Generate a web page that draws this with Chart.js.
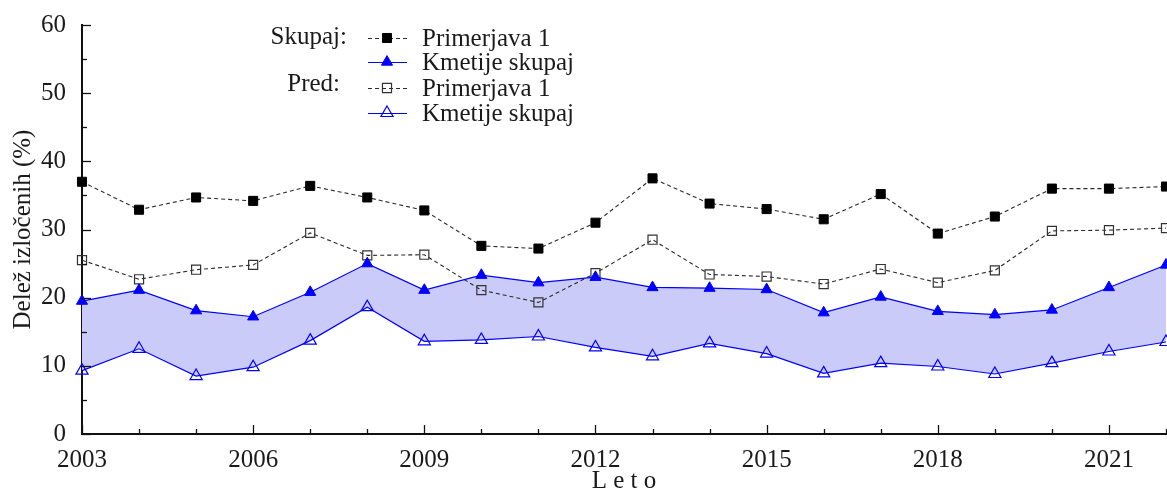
<!DOCTYPE html>
<html>
<head>
<meta charset="utf-8">
<script src="https://cdn.jsdelivr.net/npm/chart.js@4/dist/chart.umd.min.js"></script>
<style>
    body { margin: 0; background: #fff; }
    canvas { display: block; }
</style>
</head>
<body>
<canvas id="chart" width="1167" height="491"></canvas>
<script>
    // leto
    var years = [2003, 2004, 2005, 2006, 2007, 2008, 2009, 2010, 2011, 2012,
                 2013, 2014, 2015, 2016, 2017, 2018, 2019, 2020, 2021, 2022];

    // Skupaj
    var skupajPrimerjava = [37.0, 32.9, 34.7, 34.2, 36.4, 34.7, 32.8, 27.6, 27.2, 31.0,
                            37.5, 33.8, 33.0, 31.5, 35.2, 29.4, 31.9, 36.0, 36.0, 36.3];
    var skupajKmetije    = [19.5, 21.1, 18.1, 17.2, 20.8, 25.0, 21.1, 23.3, 22.2, 23.0,
                            21.5, 21.4, 21.2, 17.8, 20.1, 18.0, 17.5, 18.2, 21.5, 24.8];

    // Pred
    var predPrimerjava   = [25.5, 22.7, 24.1, 24.8, 29.5, 26.2, 26.3, 21.1, 19.3, 23.6,
                            28.5, 23.4, 23.1, 22.0, 24.2, 22.2, 24.0, 29.8, 29.9, 30.2];
    var predKmetije      = [9.3, 12.5, 8.5, 9.8, 13.7, 18.6, 13.6, 13.8, 14.3, 12.7,
                            11.4, 13.3, 11.8, 8.9, 10.4, 9.9, 8.8, 10.4, 12.1, 13.5];

    var yTicks = [0, 10, 20, 30, 40, 50, 60];
    var labeledYears = [2003, 2006, 2009, 2012, 2015, 2018, 2021];

    var FONT = '"Liberation Serif", "DejaVu Serif", serif';
    var FS = 25;
    var TXT = '#1a1a1a';
    var BLUE = '#0000ff';
    var DOT = '#2a2a2a';

    // tick marks drawn inward + legend
    var decor = {
        id: 'decor',
        afterDatasetsDraw: function(chart) {
            var ctx = chart.ctx;
            var xs = chart.scales.x, ys = chart.scales.y;
            var left = chart.chartArea.left, bottom = chart.chartArea.bottom;
            ctx.save();
            ctx.strokeStyle = '#111';
            ctx.lineWidth = 1.3;
            for (var v = 0; v <= 60; v += 5) {
                var py = Math.round(ys.getPixelForValue(v)) + 0.5;
                var len = (v % 10 === 0) ? 9 : 5;
                ctx.beginPath(); ctx.moveTo(left, py); ctx.lineTo(left + len, py); ctx.stroke();
            }
            for (var i = 0; i < years.length; i++) {
                var px = Math.round(xs.getPixelForValue(i)) + 0.5;
                var l2 = (labeledYears.indexOf(years[i]) >= 0) ? 9 : 5;
                ctx.beginPath(); ctx.moveTo(px, bottom); ctx.lineTo(px, bottom - l2); ctx.stroke();
            }
            ctx.restore();
            drawLegend(chart, ctx);
        }
    };

    function drawLegend(chart, ctx) {
        var x0 = 368, x1 = 407, mx = 387, tx = 422;
        var rows = [
            {y: 38,  ds: 0},
            {y: 62,  ds: 1},
            {y: 88,  ds: 2},
            {y: 113, ds: 3}
        ];
        ctx.save();
        ctx.font = FS + 'px ' + FONT;
        ctx.fillStyle = TXT;
        ctx.textBaseline = 'middle';
        ctx.textAlign = 'right';
        ctx.fillText('Skupaj:', 347, 37);
        ctx.fillText('Pred:', 340, 84);
        rows.forEach(function(r) {
            var d = chart.data.datasets[r.ds];
            ctx.save();
            ctx.strokeStyle = d.borderColor;
            ctx.lineWidth = d.borderWidth;
            ctx.setLineDash(d.borderDash || []);
            ctx.beginPath(); ctx.moveTo(x0, r.y + 0.5); ctx.lineTo(x1, r.y + 0.5); ctx.stroke();
            ctx.setLineDash([]);
            ctx.fillStyle = d.pointBackgroundColor;
            ctx.strokeStyle = d.pointBorderColor;
            ctx.lineWidth = d.pointBorderWidth;
            Chart.helpers.drawPoint(ctx, {
                pointStyle: d.pointStyle, radius: d.pointRadius, borderWidth: d.pointBorderWidth
            }, mx, r.y);
            ctx.restore();
            ctx.fillStyle = TXT;
            ctx.textAlign = 'left';
            ctx.fillText(d.label, tx, r.y + 1);
        });
        ctx.restore();
    }

    var chart = new Chart(document.getElementById('chart'), {
        type: 'line',
        data: {
            labels: years,
            datasets: [
                {
                    label: 'Primerjava 1', data: skupajPrimerjava,
                    borderColor: DOT, borderWidth: 1.1, borderDash: [4, 3],
                    pointStyle: 'rect', pointRadius: 6.4,
                    pointBackgroundColor: '#000', pointBorderColor: '#000', pointBorderWidth: 1,
                    fill: false, tension: 0
                },
                {
                    label: 'Kmetije skupaj', data: skupajKmetije,
                    borderColor: BLUE, borderWidth: 1.2,
                    backgroundColor: '#cbcbf9',
                    pointStyle: 'triangle', pointRadius: 6.4,
                    pointBackgroundColor: BLUE, pointBorderColor: BLUE, pointBorderWidth: 1,
                    fill: 3, tension: 0
                },
                {
                    label: 'Primerjava 1', data: predPrimerjava,
                    borderColor: DOT, borderWidth: 1.1, borderDash: [4, 3],
                    pointStyle: 'rect', pointRadius: 6.4,
                    pointBackgroundColor: 'rgba(0,0,0,0)', pointBorderColor: '#333', pointBorderWidth: 1.2,
                    fill: false, tension: 0
                },
                {
                    label: 'Kmetije skupaj', data: predKmetije,
                    borderColor: BLUE, borderWidth: 1.2,
                    pointStyle: 'triangle', pointRadius: 7,
                    pointBackgroundColor: 'rgba(0,0,0,0)', pointBorderColor: BLUE, pointBorderWidth: 1.2,
                    fill: false, tension: 0
                }
            ]
        },
        options: {
            responsive: false,
            animation: false,
            layout: { autoPadding: false, padding: { top: 25, right: 1, left: 0, bottom: 0 } },
            plugins: {
                legend: { display: false },
                tooltip: { enabled: false },
                filler: { drawTime: 'beforeDatasetsDraw' }
            },
            scales: {
                x: {
                    type: 'category',
                    offset: false,
                    grid: { display: false, drawTicks: false },
                    border: { display: true, color: '#111', width: 2 },
                    ticks: {
                        autoSkip: false, maxRotation: 0, padding: 11,
                        color: TXT, font: { family: FONT, size: FS },
                        callback: function(v) {
                            var yr = years[v];
                            return labeledYears.indexOf(yr) >= 0 ? String(yr) : '';
                        }
                    },
                    title: {
                        display: true, text: 'L e t o', color: TXT,
                        font: { family: FONT, size: FS, lineHeight: 0.75 },
                        padding: 0
                    },
                    afterFit: function(s) {
                        s.height = 57;
                        s.paddingLeft = 0; s.paddingRight = 0;
                    }
                },
                y: {
                    min: 0, max: 60,
                    grid: { display: false, drawTicks: false },
                    border: { display: true, color: '#111', width: 2 },
                    afterBuildTicks: function(s) {
                        s.ticks = yTicks.map(function(v) { return { value: v }; });
                    },
                    ticks: {
                        padding: 16, color: TXT,
                        font: { family: FONT, size: FS }
                    },
                    title: {
                        display: true, text: 'Delež izločenih (%)', color: TXT,
                        font: { family: FONT, size: FS, lineHeight: 1 },
                        padding: { top: 11, bottom: 0 }
                    },
                    afterFit: function(s) {
                        s.width = 82;
                        s.paddingTop = 0; s.paddingBottom = 0;
                    }
                }
            }
        },
        plugins: [decor]
    });
</script>
</body>
</html>
